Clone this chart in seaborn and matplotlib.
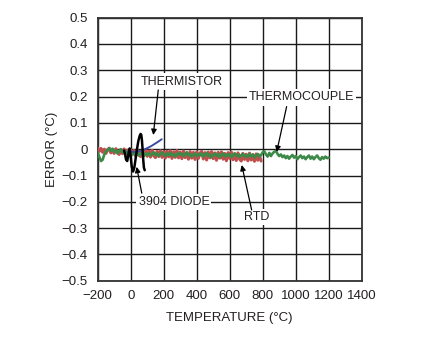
import matplotlib
matplotlib.use("Agg")
import matplotlib.pyplot as plt
import seaborn as sns
import numpy as np

# ---------------- data ----------------
x_ticks = [-200, 0, 200, 400, 600, 800, 1000, 1200, 1400]
x_tick_labels = ["\u2212200", "0", "200", "400", "600", "800", "1000", "1200", "1400"]
y_ticks = [-0.5, -0.4, -0.3, -0.2, -0.1, 0.0, 0.1, 0.2, 0.3, 0.4, 0.5]
y_tick_labels = ["\u22120.5", "\u22120.4", "\u22120.3", "\u22120.2", "\u22120.1", "0",
                 "0.1", "0.2", "0.3", "0.4", "0.5"]

rtd_temp = list(range(-200, 800, 10))
rtd_err = [
    0.004, -0.008, 0.003, -0.012, 0.0, -0.016, -0.002, 0.004, -0.014, -0.003,
    -0.016, 0.002, -0.013, -0.02, -0.001, -0.017, 0.001, -0.019, -0.004, -0.022,
    -0.002, -0.02, -0.005, -0.026, -0.004, -0.021, -0.028, -0.006, -0.024, -0.003,
    -0.027, -0.007, -0.03, -0.004, -0.025, -0.032, -0.008, -0.028, -0.006, -0.031,
    -0.009, -0.034, -0.008, -0.029, -0.006, -0.035, -0.01, -0.031, -0.005, -0.033,
    -0.011, -0.036, -0.007, -0.032, -0.013, -0.038, -0.009, -0.034, -0.012, -0.039,
    -0.01, -0.035, -0.015, -0.008, -0.037, -0.013, -0.041, -0.011, -0.033, -0.009,
    -0.036, -0.014, -0.042, -0.012, -0.034, -0.01, -0.038, -0.016, -0.044, -0.013,
    -0.035, -0.011, -0.04, -0.017, -0.043, -0.014, -0.037, -0.045, -0.016, -0.039,
    -0.019, -0.044, -0.015, -0.041, -0.021, -0.046, -0.018, -0.042, -0.023, -0.045,
]

tc_temp = list(range(-200, 1210, 10))
tc_err = [
    -0.012, -0.03, -0.045, -0.04, -0.02, -0.008, -0.004, 0.004, -0.006, 0.002,
    -0.01, -0.004, -0.016, -0.008, 0.0, -0.012, -0.006, -0.018, -0.01, -0.004,
    -0.014, -0.02, -0.012, -0.022, -0.016, -0.024, -0.014, -0.02, -0.026, -0.016,
    -0.022, -0.014, -0.024, -0.018, -0.012, -0.022, -0.016, -0.026, -0.018, -0.012,
    -0.02, -0.026, -0.016, -0.022, -0.014, -0.024, -0.018, -0.028, -0.02, -0.014,
    -0.022, -0.016, -0.026, -0.02, -0.012, -0.024, -0.018, -0.028, -0.022, -0.016,
    -0.026, -0.018, -0.024, -0.016, -0.028, -0.02, -0.014, -0.026, -0.02, -0.03,
    -0.022, -0.016, -0.026, -0.018, -0.03, -0.022, -0.016, -0.028, -0.02, -0.026,
    -0.018, -0.03, -0.022, -0.016, -0.026, -0.02, -0.03, -0.022, -0.018, -0.028,
    -0.022, -0.03, -0.018, -0.026, -0.02, -0.032, -0.024, -0.018, -0.028, -0.022,
    -0.012, -0.008, -0.02, -0.028, -0.014, -0.026, -0.016, -0.01, -0.006, -0.018,
    -0.026, -0.02, -0.03, -0.024, -0.034, -0.026, -0.036, -0.028, -0.022, -0.032,
    -0.026, -0.038, -0.03, -0.024, -0.034, -0.028, -0.038, -0.03, -0.024, -0.036,
    -0.028, -0.038, -0.03, -0.024, -0.034, -0.04, -0.03, -0.036, -0.028, -0.034,
    -0.032,
]

thermistor_temp = [-20, 0, 25, 50, 75, 100, 125, 150, 170, 188]
thermistor_err = [-0.01, -0.01, -0.01, -0.008, -0.003, 0.004, 0.012, 0.022, 0.03, 0.038]

diode_temp = [-40, -34, -28, -21, -14, -6, 0, 6, 14, 22, 30, 38, 46, 54, 60, 64, 68, 72, 76, 80, 85]
diode_err = [-0.005, -0.02, -0.04, -0.045, -0.02, 0.003, -0.03, -0.065, -0.085, -0.07,
             -0.035, 0.0, 0.03, 0.05, 0.058, 0.055, 0.035, 0.0, -0.04, -0.07, -0.08]

# ---------------- style ----------------
sns.set_style("white")
plt.rcParams["font.family"] = ["Liberation Sans Narrow", "Liberation Sans", "DejaVu Sans"]
plt.rcParams["axes.unicode_minus"] = True

TXT = "#231f20"
FS = 9
fig = plt.figure(figsize=(4.27, 3.40), dpi=100)
ax = fig.add_axes([97.7 / 427, (340 - 280.7) / 340, 264 / 427, 263 / 340])

sns.lineplot(x=rtd_temp, y=rtd_err, ax=ax, color="#c0504d", lw=2.2, estimator=None, zorder=3)
sns.lineplot(x=tc_temp, y=tc_err, ax=ax, color="#3d8a48", lw=1.9, estimator=None, zorder=4)
sns.lineplot(x=thermistor_temp, y=thermistor_err, ax=ax, color="#3a4da0", lw=1.4,
             estimator=None, zorder=5)
sns.lineplot(x=diode_temp, y=diode_err, ax=ax, color="black", lw=1.8, estimator=None, zorder=6)

ax.set_xlim(-200, 1400)
ax.set_ylim(-0.5, 0.5)
ax.set_xticks(x_ticks)
ax.set_xticklabels(x_tick_labels)
ax.set_yticks(y_ticks)
ax.set_yticklabels(y_tick_labels)
ax.tick_params(length=0, labelsize=FS + 0.5, colors=TXT)
ax.tick_params(axis="x", pad=7)
ax.tick_params(axis="y", pad=7)
ax.grid(True, color="#1a1a1a", lw=1.0, zorder=1)
ax.set_axisbelow(True)
for s in ax.spines.values():
    s.set_color("#333333")
    s.set_linewidth(1.3)

ax.set_xlabel("TEMPERATURE (\u00b0C)", fontsize=FS + 0.5, color=TXT, labelpad=7)
ax.set_ylabel("ERROR (\u00b0C)", fontsize=FS + 0.5, color=TXT, labelpad=3)

box = dict(facecolor="white", edgecolor="none", pad=1.5)
arrow = dict(arrowstyle="-|>", color="black", lw=0.9, mutation_scale=8, shrinkA=0, shrinkB=0)

ax.text(309, 0.257, "THERMISTOR", ha="center", va="center", fontsize=FS, color=TXT, bbox=box, zorder=7)
ax.annotate("", xy=(137, 0.054), xytext=(167, 0.225), arrowprops=arrow, zorder=7)

ax.text(1036, 0.197, "THERMOCOUPLE", ha="center", va="center", fontsize=FS, color=TXT, bbox=box, zorder=7)
ax.annotate("", xy=(885, -0.01), xytext=(945, 0.162), arrowprops=arrow, zorder=7)

ax.text(262, -0.2, "3904 DIODE", ha="center", va="center", fontsize=FS, color=TXT, bbox=box, zorder=7)
ax.annotate("", xy=(36, -0.067), xytext=(67, -0.167), arrowprops=arrow, zorder=7)

ax.text(764, -0.257, "RTD", ha="center", va="center", fontsize=FS, color=TXT, bbox=box, zorder=7)
ax.annotate("", xy=(673, -0.06), xytext=(733, -0.231), arrowprops=arrow, zorder=7)

fig.savefig("out.png", dpi=100)
